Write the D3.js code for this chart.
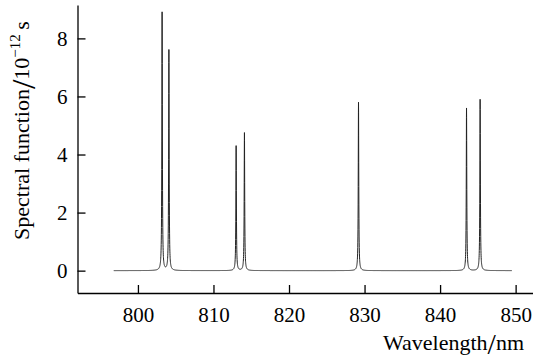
<!DOCTYPE html>
<html>
<head>
<meta charset="utf-8">
<script src="https://cdn.jsdelivr.net/npm/d3@7"></script>
<style>
  body { margin: 0; background: #fff; }
</style>
</head>
<body>
<svg id="chart"></svg>
<script>
// peak list (nm, 10^-12 s)
var peakCenters = [803.2, 804.1, 813.0, 814.1, 829.2, 843.5, 845.3];
var peakHeights = [8.9, 7.6, 4.3, 4.75, 5.8, 5.6, 5.9];
var peakWidths = [0.04, 0.04, 0.04, 0.04, 0.04, 0.04, 0.04]; // half width, nm
var spectrumRange = [796.8, 849.5];

var xTicks = [800, 810, 820, 830, 840, 850];
var yTicks = [0, 2, 4, 6, 8];

var screen = {width: 533, height: 362};
var serif = "Liberation Serif, Tinos, Times New Roman, DejaVu Serif, serif";

var svg = d3.select("#chart")
  .attr("width", screen.width)
  .attr("height", screen.height)
  .attr("font-family", serif);

var xScale = d3.scaleLinear()
  .domain([792, 852.3])
  .range([77.5, 533]);

var yScale = d3.scaleLinear()
  .domain([-0.77, 9.15])
  .range([293, 5]);

// lorentzian line shape summed over the peak list
var spectrum = function(w) {
  var s = 0;
  for (var i = 0; i < peakCenters.length; i++) {
    var g = peakWidths[i];
    var dx = w - peakCenters[i];
    s += peakHeights[i] * g * g / (dx * dx + g * g);
  }
  return s;
};

var xs = d3.range(spectrumRange[0], spectrumRange[1], 0.01).concat(peakCenters);
xs.push(spectrumRange[1]);
xs.sort(function(a, b) { return a - b; });
var points = xs.map(function(w) { return [w, spectrum(w)]; });

var line = d3.line()
  .x(function(d) { return xScale(d[0]); })
  .y(function(d) { return yScale(d[1]); });

svg.append("path")
  .datum(points)
  .attr("fill", "none")
  .attr("stroke", "#222")
  .attr("stroke-width", 1)
  .attr("d", line);

var xAxis = d3.axisBottom(xScale)
  .tickValues(xTicks)
  .tickFormat(d3.format("d"))
  .tickSizeInner(-8)
  .tickSizeOuter(0)
  .tickPadding(14);

var yAxis = d3.axisLeft(yScale)
  .tickValues(yTicks)
  .tickFormat(d3.format("d"))
  .tickSizeInner(-8)
  .tickSizeOuter(0)
  .tickPadding(10);

var gx = svg.append("g")
  .attr("transform", "translate(0," + 293 + ")")
  .call(xAxis);

var gy = svg.append("g")
  .attr("transform", "translate(" + 77.5 + ",0)")
  .call(yAxis);

[gx, gy].forEach(function(g) {
  g.attr("font-family", serif).attr("font-size", 21);
  g.selectAll("path, line").attr("stroke", "#000").attr("stroke-width", 1.3);
  g.selectAll("text")
    .attr("fill", "#000")
    .attr("font-family", serif)
    .attr("font-size", 21);
});

// axis titles
var xt = svg.append("text")
  .attr("x", 524)
  .attr("y", 350)
  .attr("text-anchor", "end")
  .attr("font-family", serif)
  .attr("font-size", 22)
  .attr("fill", "#000");
xt.append("tspan").text("Wavelength");
xt.append("tspan").attr("dy", 4).attr("font-size", 30).text("/");
xt.append("tspan").attr("dy", -4).text("nm");

var yt = svg.append("text")
  .attr("transform", "translate(29,240) rotate(-90)")
  .attr("text-anchor", "start")
  .attr("font-family", serif)
  .attr("font-size", 22)
  .attr("fill", "#000");
yt.append("tspan").text("Spectral function");
yt.append("tspan").attr("dy", 6).attr("font-size", 34).text("/");
yt.append("tspan").attr("dy", -6).text("10");
yt.append("tspan").attr("dy", -9).attr("font-size", 15).text("\u221212");
yt.append("tspan").attr("dy", 9).text("\u2009s");
</script>
</body>
</html>
